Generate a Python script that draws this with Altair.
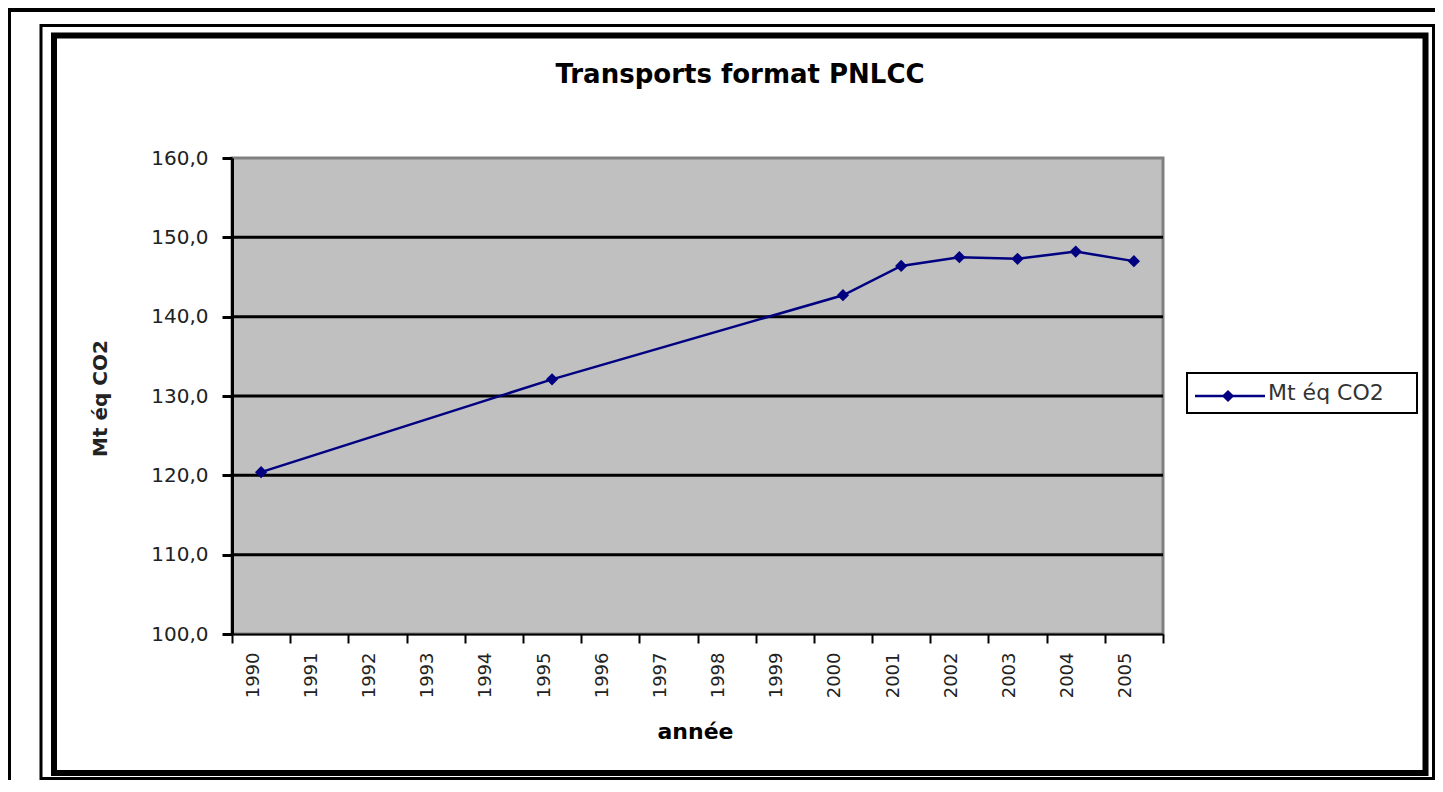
import altair as alt
import pandas as pd

# ---- data ----
axis_years = ["1990", "1991", "1992", "1993", "1994", "1995", "1996", "1997",
              "1998", "1999", "2000", "2001", "2002", "2003", "2004", "2005"]
point_years = ["1990", "1995", "2000", "2001", "2002", "2003", "2004", "2005"]
emissions = [120.4, 132.1, 142.7, 146.4, 147.5, 147.3, 148.2, 147.0]
y_ticks = [100, 110, 120, 130, 140, 150, 160]
grid_values = [110, 120, 130, 140, 150]

chart_title = "Transports format PNLCC"
x_title = "année"
y_title = "Mt éq CO2"
series_name = "Mt éq CO2"

df = pd.DataFrame({"year": point_years, "value": emissions})
grid_df = pd.DataFrame({"value": grid_values})

W, H = 931, 476
NAVY = "#000080"
FONT = "DejaVu Sans"

one = alt.Data(values=[{"k": 0}])

x_enc = alt.X(
    "year:O",
    scale=alt.Scale(type="band", domain=axis_years, paddingInner=0, paddingOuter=0),
    axis=alt.Axis(
        title=x_title, labelAngle=270, labelAlign="right", labelBaseline="middle",
        labelOffset=-8, labelFont=FONT, labelFontSize=18, labelColor="#222",
        labelPadding=9, tickBand="extent", tickSize=9, tickWidth=2, tickColor="black",
        domainColor="black", domainWidth=2, grid=False,
        titleFont=FONT, titleFontSize=22, titleFontWeight="bold", titleColor="black",
        titleX=463, titleY=97, titleAlign="center", titleBaseline="middle", titleAngle=0,
    ),
)
y_scale = alt.Scale(domain=[100, 160], nice=False, zero=False)
y_axis = alt.Axis(
    title=y_title, values=y_ticks,
    labelExpr="replace(format(datum.value, '.1f'), '.', ',')",
    labelFont=FONT, labelFontSize=20, labelColor="#222", labelPadding=14,
    tickSize=10, tickWidth=3, tickColor="black",
    domainColor="black", domainWidth=3, grid=False,
    titleFont=FONT, titleFontSize=20, titleFontWeight="bold", titleColor="#222",
    titleX=-132, titleY=240, titleAngle=270, titleAlign="center", titleBaseline="middle",
)
y_enc = alt.Y("value:Q", scale=y_scale, axis=y_axis)

grid = alt.Chart(grid_df).mark_rule(color="black", strokeWidth=3).encode(y=y_enc)
line = alt.Chart(df).mark_line(color=NAVY, strokeWidth=2.5).encode(x=x_enc, y=y_enc)
points = alt.Chart(df).mark_point(shape="diamond", filled=True, size=150, color=NAVY, opacity=1).encode(
    x=x_enc, y=y_enc
)

# frames around the chart
thick_frame = alt.Chart(one).mark_rect(filled=False, stroke="black", strokeWidth=6).encode(
    x=alt.value(-178), x2=alt.value(1193.5), y=alt.value(-122.5), y2=alt.value(615)
)
thin_frame = alt.Chart(one).mark_rect(filled=False, stroke="black", strokeWidth=3).encode(
    x=alt.value(-191), x2=alt.value(1201.5), y=alt.value(-132.5), y2=alt.value(620.5)
)
outer_v = alt.Chart(one).mark_rule(color="black", strokeWidth=3).encode(
    x=alt.value(-222.5), y=alt.value(-150), y2=alt.value(700)
)
outer_h = alt.Chart(one).mark_rule(color="black", strokeWidth=4).encode(
    x=alt.value(-224), x2=alt.value(1300), y=alt.value(-148)
)

# title
title = alt.Chart(one).mark_text(
    text=chart_title, font=FONT, fontSize=26, fontWeight="bold", color="black",
    align="center", baseline="alphabetic"
).encode(x=alt.value(508), y=alt.value(-75))

# legend
leg_box = alt.Chart(one).mark_rect(fill="white", stroke="black", strokeWidth=2).encode(
    x=alt.value(955), x2=alt.value(1185), y=alt.value(215), y2=alt.value(255)
)
leg_line = alt.Chart(one).mark_rule(color=NAVY, strokeWidth=2.5).encode(
    x=alt.value(963), x2=alt.value(1033), y=alt.value(238)
)
leg_pt = alt.Chart(one).mark_point(shape="diamond", filled=True, size=150, color=NAVY, opacity=1).encode(
    x=alt.value(996), y=alt.value(238)
)
leg_text = alt.Chart(one).mark_text(
    text=series_name, font=FONT, fontSize=22, color="#333", align="left", baseline="middle"
).encode(x=alt.value(1036), y=alt.value(235))

chart = alt.layer(
    outer_v, outer_h, thin_frame, thick_frame, title,
    grid, line, points,
    leg_box, leg_line, leg_pt, leg_text,
).properties(
    width=W, height=H,
    padding={"left": 224, "top": 150, "right": 272, "bottom": 146},
    autosize=alt.AutoSizeParams(type="none"),
    background="white",
).configure_view(
    fill="#C0C0C0", stroke="#808080", strokeWidth=3
)

chart.save("out.html", embed_options={"renderer": "svg", "actions": False})
